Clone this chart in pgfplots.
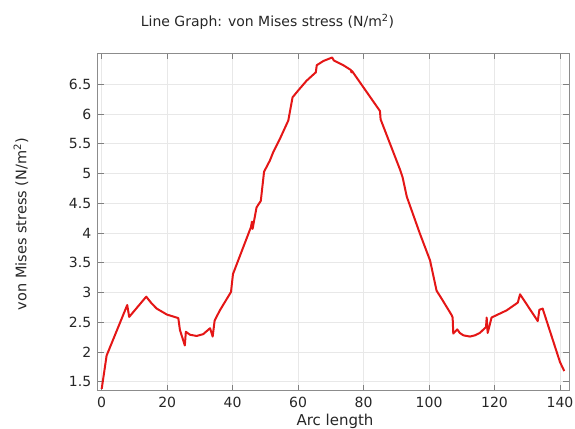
\documentclass[border=0pt]{standalone}
\usepackage{fontspec}
\setmainfont{DejaVu Sans}
\usepackage{pgfplots}
\pgfplotsset{compat=1.18}
\definecolor{curvered}{RGB}{228,22,22}

\begin{document}
\begin{tikzpicture}[x=1pt,y=1pt]
\useasboundingbox (0,0) rectangle (575,428);
\begin{axis}[
    at={(97.7pt,37.3pt)}, anchor=south west,
    scale only axis,
    width=471.3pt, height=337.4pt,
    xmin=-1.22, xmax=142.75,
    ymin=1.35, ymax=7.02,
    xtick={0,20,...,140},
    ytick={1.5,2,...,6.5},
    tick align=inside,
    major tick length=6pt,
    tick style={black!50, line width=0.8pt},
    axis line style={black!45, line width=1pt},
    grid=major,
    major grid style={black!9, line width=0.6pt},
    /pgf/number format/assume math mode=true,
    ticklabel style={font=\fontsize{14}{16}\selectfont, text=black!85},
    yticklabel style={/pgf/number format/fixed},
    xticklabel style={yshift=-3pt},
    yticklabel style={xshift=-3pt},
]
\addplot[curvered, line width=2pt, line join=round] coordinates {
(0,1.38) (1.5,1.94) (7.8,2.79) (8.4,2.59) (13.6,2.93) (15.2,2.82)
(16.8,2.73) (19.9,2.63) (23.4,2.57) (23.9,2.37) (25.4,2.11) (25.7,2.34)
(27,2.29) (29,2.27) (31,2.30) (33.1,2.40) (33.9,2.26) (34.5,2.53)
(36.1,2.70) (39.5,3.01) (40.1,3.31) (45.6,4.10) (45.9,4.19) (46.1,4.07)
(47.3,4.43) (48.6,4.54) (49.6,5.03) (51.4,5.22) (52.4,5.36) (54.5,5.59)
(57,5.89) (58.3,6.28) (60.1,6.40) (62.6,6.56) (65.4,6.70) (65.7,6.82)
(67.7,6.89) (70.4,6.95) (70.9,6.90) (73.8,6.82) (76.1,6.74) (76.3,6.70)
(76.5,6.72) (85,6.05) (85.2,5.91) (91.1,5.07) (91.9,4.94) (93.2,4.61)
(97.2,3.99) (100.3,3.54) (102.3,3.03) (103.8,2.90) (106.9,2.62) (107.2,2.58)
(107.4,2.31) (108.6,2.38) (109.4,2.32) (110.5,2.28) (112.5,2.26) (114,2.28)
(115.5,2.32) (117.4,2.42) (117.6,2.58) (117.9,2.32) (119.1,2.58) (123.7,2.70)
(127.1,2.83) (127.8,2.97) (133.2,2.52) (133.7,2.71) (134.7,2.73) (140,1.83)
(141.3,1.68)
};
\end{axis}
\node[font=\fontsize{14}{16}\selectfont, text=black!85] at (267.5,406) {Line Graph: von Mises stress (N/m\textsuperscript{2})};
\node[font=\fontsize{14.5}{16}\selectfont, text=black!85, rotate=90] at (21,204) {von Mises stress (N/m\textsuperscript{2})};
\node[font=\fontsize{15}{16}\selectfont, text=black!85, anchor=base] at (335,3) {Arc length};
\end{tikzpicture}
\end{document}
